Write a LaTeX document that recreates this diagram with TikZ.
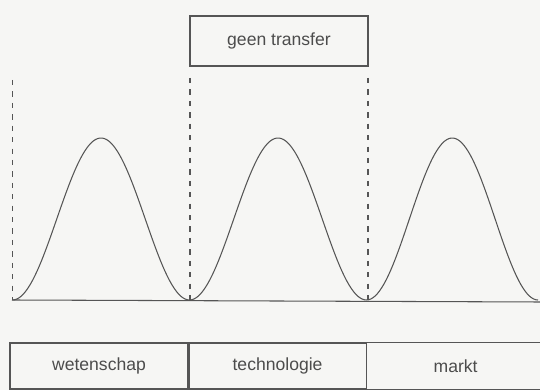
\documentclass[tikz,border=0pt]{standalone}
\usepackage{fontspec}
\setmainfont{Liberation Sans}
\usetikzlibrary{positioning}
\definecolor{ink}{HTML}{555555}
\definecolor{paper}{HTML}{F6F6F4}

\begin{document}
\begin{tikzpicture}[
  line/.style={draw=ink,line width=0.6pt},
  fase/.style={line,rectangle,minimum height=0.92cm,inner sep=0pt,
    font=\fontsize{10}{12}\selectfont,text=ink!90!black},
  grens/.style={draw=ink,line width=0.6pt,dash pattern=on 3pt off 3.5pt}
]
\fill[paper] (0,0) rectangle (10.8,7.8);
\useasboundingbox (0,0) rectangle (10.8,7.8);

% fasen onderaan
\node[fase,minimum width=3.56cm] (wet) at (1.98,0.48) {wetenschap};
\node[fase,minimum width=3.54cm,right=0pt of wet] (tech) {technologie};
\node[fase,draw=none,minimum width=3.54cm,right=0pt of tech] (markt) {markt};
\coordinate (rand) at (10.8,0);
\draw[line] (tech.north east) -- (tech.north east -| rand)
  (tech.south east) -- (tech.south east -| rand);

% geen transfer
\node[fase,minimum width=3.56cm,minimum height=1cm] (geen) at (5.58,6.98) {geen transfer};

% grenzen
\coordinate (g1) at (0.25,6.2);
\coordinate (g2) at (3.80,6.24);
\coordinate (g3) at (7.36,6.24);
\draw[grens] (g1) -- (g1 |- 0,1.8);
\draw[grens] (g2) -- (g2 |- 0,1.8);
\draw[grens] (g3) -- (g3 |- 0,1.8);

% basislijn en golven
\coordinate (b0) at (0.24,1.8);
\coordinate (b1) at (10.8,1.76);
\draw[line] (b0) -- (b1);
\foreach \a/\b in {0.25/3.79,3.79/7.33,7.33/10.76}
  \draw[line] plot[domain=0:360,samples=80,smooth]
    ({\a+(\b-\a)*\x/360},{1.8+3.24*(1-cos(\x))/2});
\end{tikzpicture}
\end{document}
